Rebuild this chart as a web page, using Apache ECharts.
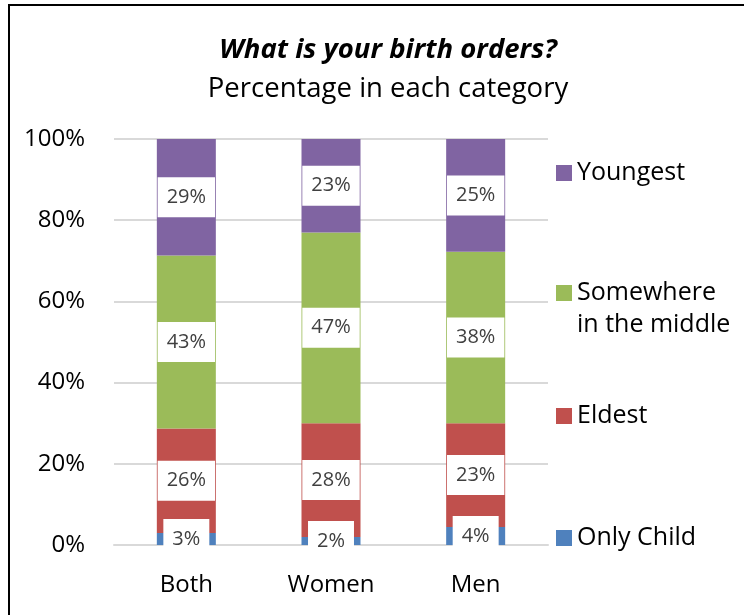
<!DOCTYPE html>
<html>
<head>
<meta charset="utf-8">
<script src="https://cdn.jsdelivr.net/npm/echarts@6/dist/echarts.min.js"></script>
<style>
  html, body { margin: 0; padding: 0; background: #fff; }
  #chart { width: 744px; height: 615px; }
</style>
</head>
<body>
<div id="chart"></div>
<script>
// data
var categories = ['Both', 'Women', 'Men'];
var seriesNames = ['Only Child', 'Eldest', 'Somewhere in the middle', 'Youngest'];
var onlyChild = [3, 2, 4];
var eldest = [26, 28, 23];
var middle = [43, 47, 38];
var youngest = [29, 23, 25];
var yTicks = [0, 20, 40, 60, 80, 100];

var colors = ['#4f81bd', '#c0504d', '#9bbb59', '#8064a2'];
var font = 'Open Sans';

// 100% stacked: each column normalised to its own total
var raw = [onlyChild, eldest, middle, youngest];
var totals = categories.map(function (c, i) {
    return raw.reduce(function (s, arr) { return s + arr[i]; }, 0);
});

var series = raw.map(function (arr, idx) {
    return {
        name: seriesNames[idx],
        type: 'bar',
        stack: 'all',
        barWidth: 59,
        itemStyle: { color: colors[idx] },
        label: {
            show: true,
            position: 'inside',
            fontFamily: font,
            fontSize: 20,
            color: '#404040',
            backgroundColor: '#fff',
            padding: [10, 9, 10, 9],
            formatter: function (p) { return arr[p.dataIndex] + '%'; }
        },
        data: arr.map(function (v, i) { return v / totals[i] * 100; })
    };
});

// one legend per item so each sits beside its band like the original
var legendTops = [152, 240, 395, 517];
var legends = seriesNames.slice().reverse().map(function (name, i) {
    var twoLine = name === 'Somewhere in the middle';
    return {
        data: [name],
        left: 551,
        top: legendTops[i],
        icon: 'rect',
        itemWidth: 16,
        itemHeight: 16,
        itemGap: 0,
        selectedMode: false,
        // blank first line keeps the square level with "Somewhere"
        formatter: function (n) { return twoLine ? ' \nSomewhere\nin the middle' : n; },
        textStyle: {
            fontFamily: font,
            fontSize: 25,
            color: '#000',
            lineHeight: 32
        }
    };
});

var option = {
    animation: false,
    backgroundColor: '#fff',
    graphic: [{
        type: 'rect',
        shape: { x: 9, y: 5, width: 800, height: 700 },
        style: { fill: 'none', stroke: '#000', lineWidth: 2 },
        silent: true
    }],
    title: {
        text: 'What is your birth orders?',
        subtext: 'Percentage in each category',
        left: 383,
        textAlign: 'center',
        top: 32,
        itemGap: 11,
        textStyle: {
            fontFamily: font, fontSize: 27.5, fontWeight: 'bold', fontStyle: 'italic', color: '#000'
        },
        subtextStyle: {
            fontFamily: font, fontSize: 27.5, color: '#000'
        }
    },
    legend: legends,
    grid: { left: 114, right: 196, top: 139, bottom: 70 },
    xAxis: {
        type: 'category',
        data: categories,
        axisLine: { lineStyle: { color: '#d9d9d9', width: 2 } },
        axisTick: { show: false },
        axisLabel: { fontFamily: font, fontSize: 24, color: '#000', margin: 28 }
    },
    yAxis: {
        type: 'value',
        min: yTicks[0],
        max: yTicks[yTicks.length - 1],
        interval: 20,
        axisLine: { show: false },
        axisTick: { show: false },
        splitLine: { lineStyle: { color: '#d9d9d9', width: 2 } },
        axisLabel: {
            fontFamily: font, fontSize: 24, color: '#000', margin: 29,
            formatter: '{value}%'
        }
    },
    series: series
};

var chart = echarts.init(document.getElementById('chart'));
chart.setOption(option);
</script>
</body>
</html>
